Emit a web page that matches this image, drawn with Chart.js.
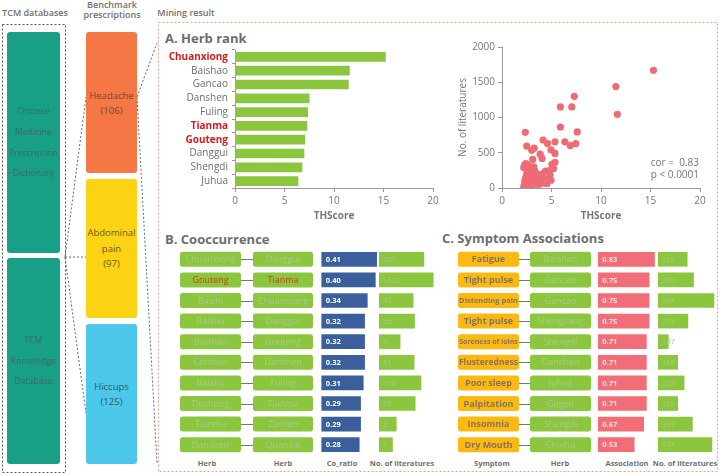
<!DOCTYPE html>
<html>
<head>
<meta charset="utf-8">
<script src="https://cdn.jsdelivr.net/npm/chart.js@4.4.1/dist/chart.umd.min.js"></script>
<style>
body{margin:0;width:720px;height:475px;position:relative;background:#fff;font-family:"Open Sans",Arial,sans-serif;overflow:hidden}
.hd{position:absolute;font-size:9px;font-weight:600;color:#707070;text-align:center;line-height:10px}
.box{position:absolute;border-radius:3px;display:flex;flex-direction:column;justify-content:center;align-items:center;text-align:center;font-size:10px;white-space:nowrap}
.sec{position:absolute;font-size:13px;font-weight:bold;color:#6d6d6d;line-height:14px}
.col{position:absolute;font-size:7.5px;font-weight:bold;color:#707070;text-align:center;width:80px}
canvas{position:absolute}
svg{position:absolute;left:0;top:0}
</style>
</head>
<body>
<svg width="720" height="475">
  <rect x="2.5" y="24.5" width="63" height="448" fill="none" stroke="#555" stroke-dasharray="2,2"/>
  <rect x="158.5" y="22.5" width="559" height="449" fill="none" stroke="#f2a283" stroke-dasharray="2,2"/>
  <g stroke="#666" stroke-dasharray="2,2" fill="none">
    <line x1="65" y1="257" x2="86" y2="97"/>
    <line x1="65" y1="257" x2="86" y2="257"/>
    <line x1="65" y1="257" x2="86" y2="413"/>
    <line x1="137" y1="97" x2="157" y2="43"/>
    <line x1="137" y1="97" x2="157" y2="463"/>
  </g>
</svg>

<div class="hd" style="left:0;top:8px;width:70px">TCM databases</div>
<div class="hd" style="left:78px;top:0;width:68px">Benchmark<br>prescriptions</div>
<div class="hd" style="left:150px;top:8px;width:72px">Mining result</div>

<div class="box" style="left:7px;top:32px;width:53px;height:221px;background:#17a086;color:#3b6f63;line-height:20.7px;font-size:8.7px">Chinese<br>Medicine<br>Prescription<br>Dictionary</div>
<div class="box" style="left:7px;top:258px;width:53px;height:206px;background:#17a086;color:#3b6f63;line-height:20.7px;font-size:8.7px">TCM<br>Knowledge<br>Database</div>
<div class="box" style="left:86px;top:32px;width:51px;height:141px;background:#f47745;color:#7b4534;line-height:15px;font-size:9.5px">Headache<br>(106)</div>
<div class="box" style="left:86px;top:179px;width:51px;height:139px;background:#fcd214;color:#6c5a14;line-height:15.5px;font-size:9.5px">Abdominal<br>pain<br>(97)</div>
<div class="box" style="left:86px;top:324px;width:51px;height:140px;background:#4cc8ea;color:#2e5c68;line-height:15px;font-size:9.5px">Hiccups<br>(125)</div>

<div class="sec" style="left:165px;top:31px">A. Herb rank</div>
<div class="sec" style="left:165px;top:232px">B. Cooccurrence</div>
<div class="sec" style="left:442px;top:231px">C. Symptom Associations</div>

<canvas id="rank" width="285" height="182" style="left:160px;top:40px"></canvas>
<canvas id="scat" width="265" height="184" style="left:450px;top:38px"></canvas>
<canvas id="coB" width="203" height="206" style="left:175px;top:249px"></canvas>
<canvas id="litB" width="61" height="206" style="left:379px;top:249px"></canvas>
<canvas id="asC" width="201" height="206" style="left:455px;top:249px"></canvas>
<canvas id="litC" width="60" height="206" style="left:658px;top:249px"></canvas>

<div class="col" style="left:167px;top:458px">Herb</div>
<div class="col" style="left:243px;top:458px">Herb</div>
<div class="col" style="left:302px;top:458px">Co_ratio</div>
<div class="col" style="left:362px;top:458px">No. of literatures</div>
<div class="col" style="left:452px;top:458px">Symptom</div>
<div class="col" style="left:520px;top:458px">Herb</div>
<div class="col" style="left:587px;top:458px">Association</div>
<div class="col" style="left:645px;top:458px">No. of literatures</div>

<script>
// A. herb rank
const rankHerbs = ['Chuanxiong', 'Baishao', 'Gancao', 'Danshen', 'Fuling', 'Tianma', 'Gouteng', 'Danggui', 'Shengdi', 'Juhua'];
const rankScores = [15.2, 11.55, 11.45, 7.5, 7.35, 7.27, 7.05, 6.97, 6.77, 6.37];
const rankKey = ['Chuanxiong', 'Tianma', 'Gouteng'];
const scoreTicks = [0, 5, 10, 15, 20];

// THScore vs number of literatures
const scatterScore = [15.3, 11.5, 11.65, 7.3, 5.9, 7.05, 5.9, 7.6, 2.35, 2.5, 4.15, 4.6, 5.35, 6.35, 6.9, 7.45,
  3.25, 3.0, 4.95, 3.85, 4.05, 5.35, 5.35, 3.1, 2.4, 2.55, 5.05, 4.85, 5.2, 4.4, 4.85, 4.95, 4.55, 3.2, 3.85, 4.5,
  2.2, 2.3, 2.3, 2.4, 2.4, 2.4, 2.5, 2.5, 2.5, 2.5, 2.6, 2.6, 2.6, 2.6, 2.7, 2.7, 2.7, 2.8, 2.8, 2.8, 2.8, 2.9, 2.9,
  3.0, 3.0, 3.0, 3.0, 3.1, 3.1, 3.2, 3.2, 3.3, 3.3, 3.4, 3.5, 3.5, 3.6, 3.7, 3.8, 3.9, 4.0, 4.1, 4.2, 2.2, 2.3, 2.5, 2.9, 3.2];
const scatterLit = [1670, 1440, 1045, 1300, 1150, 1150, 865, 795, 790, 595, 680, 630, 655, 655, 600, 630,
  565, 535, 540, 480, 420, 490, 365, 405, 345, 330, 335, 250, 275, 240, 180, 110, 65, 150, 180, 120,
  20, 60, 100, 10, 40, 150, 5, 80, 120, 200, 30, 60, 170, 250, 15, 90, 140, 40, 70, 110, 200, 25, 160,
  60, 100, 130, 220, 40, 180, 80, 120, 150, 250, 60, 100, 200, 130, 50, 160, 80, 120, 200, 70, 290, 330, 310, 300, 300];
const litTicks = [0, 500, 1000, 1500, 2000];

// B. co-occurrence
const coHerbA = ['Chuanxiong', 'Gouteng', 'Baizhi', 'Baizhu', 'Baishao', 'Chishao', 'Baizhu', 'Duzhong', 'Tianma', 'Danshen'];
const coHerbB = ['Danggui', 'Tianma', 'Chuanxiong', 'Danggui', 'Gouteng', 'Danshen', 'Fuling', 'Tianma', 'Zaoren', 'Quanxie'];
const coRed = [[false, true, false, false, false, false, false, false, false, false], [false, true, false, false, false, false, false, false, false, false]];
const coRatio = [0.41, 0.40, 0.34, 0.32, 0.32, 0.32, 0.31, 0.29, 0.29, 0.28];
const coLit = [301, 1612, 43, 55, 4, 51, 176, 62, 2, 1];

// C. symptom associations
const symptoms = ['Fatigue', 'Tight pulse', 'Distending pain', 'Tight pulse', 'Soreness of loins', 'Flusteredness', 'Poor sleep', 'Palpitation', 'Insomnia', 'Dry Mouth'];
const symHerbs = ['Baishao', 'Gancao', 'Gancao', 'Shengjiang', 'Shengdi', 'Danshen', 'Juhua', 'Gegen', 'Shengdi', 'Chaihu'];
const assoc = [0.83, 0.75, 0.75, 0.75, 0.71, 0.71, 0.71, 0.71, 0.67, 0.53];
const symLit = [266, 360, 964, 275, 107, 168, 229, 168, 341, 874];

Chart.defaults.font.family = '"Open Sans", Arial, sans-serif';
Chart.defaults.animation = false;
Chart.defaults.responsive = false;
Chart.defaults.plugins.legend.display = false;
Chart.defaults.plugins.tooltip.enabled = false;

const green = '#8cc63f';
const boxText = '#a9c78d';

// draws the value inside each bar
function barText(fmt, color, font) {
  return {
    id: 'barText',
    afterDatasetsDraw(chart) {
      const ctx = chart.ctx;
      const vals = chart.data.datasets[0].data;
      ctx.save();
      ctx.font = font;
      ctx.fillStyle = color;
      ctx.textBaseline = 'middle';
      chart.getDatasetMeta(0).data.forEach((el, i) => {
        ctx.fillText(fmt(vals[i]), el.base + 4, el.y + 0.5);
      });
      ctx.restore();
    }
  };
}

// label boxes on each row, placed with the chart's y scale
function rowBoxes(cols, links) {
  return {
    id: 'rowBoxes',
    beforeDatasetsDraw(chart) {
      const ctx = chart.ctx, y = chart.scales.y;
      ctx.save();
      for (let i = 0; i < cols[0].labels.length; i++) {
        const cy = y.getPixelForValue(i);
        ctx.strokeStyle = '#777';
        ctx.lineWidth = 1;
        links.forEach(l => {
          ctx.beginPath();
          ctx.moveTo(l[0], Math.round(cy) + 0.5);
          ctx.lineTo(l[1], Math.round(cy) + 0.5);
          ctx.stroke();
        });
        cols.forEach(c => {
          ctx.fillStyle = c.fill;
          ctx.beginPath();
          ctx.roundRect(c.x, cy - 7.5, c.w, 15, 2.5);
          ctx.fill();
          let size = c.size;
          ctx.font = c.weight + ' ' + size + 'px "Open Sans", Arial, sans-serif';
          while (ctx.measureText(c.labels[i]).width > c.w - 1 && size > 6) {
            size -= 0.25;
            ctx.font = c.weight + ' ' + size + 'px "Open Sans", Arial, sans-serif';
          }
          ctx.fillStyle = c.red && c.red[i] ? '#d8371f' : c.color;
          ctx.textAlign = 'center';
          ctx.textBaseline = 'middle';
          ctx.fillText(c.labels[i], c.x + c.w / 2, cy + 0.5);
        });
      }
      ctx.restore();
    }
  };
}

const hidden = {display: false};

new Chart(document.getElementById('rank'), {
  type: 'bar',
  data: {labels: rankHerbs, datasets: [{data: rankScores, backgroundColor: green, barThickness: 9}]},
  options: {
    indexAxis: 'y',
    layout: {padding: {top: 10, right: 12, left: 0, bottom: 0}},
    scales: {
      x: {
        min: 0, max: 20,
        afterBuildTicks: s => { s.ticks = scoreTicks.map(v => ({value: v})); },
        ticks: {color: '#777', font: {size: 10}, padding: 3},
        grid: {drawOnChartArea: false, color: '#999', tickLength: 4},
        border: {color: '#999'},
        title: {display: true, text: 'THScore', color: '#777', font: {size: 10, weight: 'bold'}, padding: {top: 4, bottom: 0}},
        afterFit: s => { s.height = 34; }
      },
      y: {
        ticks: {
          autoSkip: false,
          color: c => rankKey.includes(rankHerbs[c.index]) ? '#d7191c' : '#6f6f6f',
          font: c => ({size: 10, weight: rankKey.includes(rankHerbs[c.index]) ? 'bold' : 'normal'}),
          padding: 4
        },
        grid: {drawOnChartArea: false, color: '#999', tickLength: 3},
        border: {color: '#999'},
        afterFit: s => { s.width = 75; }
      }
    }
  }
});

new Chart(document.getElementById('scat'), {
  type: 'scatter',
  data: {datasets: [{
    data: scatterScore.map((v, i) => ({x: v, y: scatterLit[i]})),
    backgroundColor: '#ee6b74', borderWidth: 0, pointRadius: 3.6
  }]},
  options: {
    layout: {padding: {top: 9, right: 15, left: 0, bottom: 0}},
    scales: {
      x: {
        min: 0, max: 20,
        afterBuildTicks: s => { s.ticks = scoreTicks.map(v => ({value: v})); },
        ticks: {color: '#777', font: {size: 10}, padding: 3},
        grid: {drawOnChartArea: false, color: '#999', tickLength: 4},
        border: {color: '#999'},
        title: {display: true, text: 'THScore', color: '#777', font: {size: 10, weight: 'bold'}, padding: {top: 4, bottom: 0}},
        afterFit: s => { s.height = 34; }
      },
      y: {
        min: 0, max: 2000,
        afterBuildTicks: s => { s.ticks = litTicks.map(v => ({value: v})); },
        ticks: {color: '#777', font: {size: 10}, padding: 3, callback: v => String(v)},
        grid: {drawOnChartArea: false, color: '#999', tickLength: 4},
        border: {color: '#999'},
        title: {display: true, text: 'No. of literatures', color: '#777', font: {size: 10}, padding: {top: 7, bottom: 0}},
        afterFit: s => { s.width = 52; }
      }
    }
  },
  plugins: [{
    id: 'corText',
    afterDatasetsDraw(chart) {
      const ctx = chart.ctx, a = chart.chartArea;
      ctx.save();
      ctx.font = '10px "Open Sans", Arial, sans-serif';
      ctx.fillStyle = '#777';
      ctx.textAlign = 'right';
      ctx.textBaseline = 'middle';
      ctx.fillText('cor =  0.83', a.right - 1, 163 - 38);
      ctx.fillText('p < 0.0001', a.right - 1, 175 - 38);
      ctx.restore();
    }
  }]
});

new Chart(document.getElementById('coB'), {
  type: 'bar',
  data: {labels: coHerbA, datasets: [{data: coRatio, backgroundColor: '#3b5f9c', barThickness: 14}]},
  options: {
    indexAxis: 'y',
    layout: {padding: 0},
    scales: {x: {display: false, min: -1.095, max: 0.42}, y: hidden}
  },
  plugins: [
    rowBoxes([
      {x: 5, w: 61, fill: green, color: boxText, labels: coHerbA, red: coRed[0], size: 9, weight: 'normal'},
      {x: 78, w: 60, fill: green, color: boxText, labels: coHerbB, red: coRed[1], size: 9, weight: 'normal'}
    ], [[66, 78]]),
    barText(v => v.toFixed(2), '#ffffff', 'bold 7.5px "Open Sans", Arial, sans-serif')
  ]
});

new Chart(document.getElementById('litB'), {
  type: 'bar',
  data: {labels: coHerbA, datasets: [{data: coLit, backgroundColor: green, barThickness: 14}]},
  options: {
    indexAxis: 'y',
    layout: {padding: 0},
    scales: {x: {display: false, type: 'logarithmic', min: 0.0869, max: 5560}, y: hidden}
  },
  plugins: [barText(v => String(v), boxText, '7.5px "Open Sans", Arial, sans-serif')]
});

new Chart(document.getElementById('asC'), {
  type: 'bar',
  data: {labels: symptoms, datasets: [{data: assoc, backgroundColor: '#f16d77', barThickness: 14}]},
  options: {
    indexAxis: 'y',
    layout: {padding: 0},
    scales: {x: {display: false, min: -2.117, max: 0.852}, y: hidden}
  },
  plugins: [
    rowBoxes([
      {x: 3, w: 61, fill: '#fdb913', color: '#857558', labels: symptoms, size: 9, weight: 'bold'},
      {x: 75, w: 61, fill: green, color: boxText, labels: symHerbs, size: 9, weight: 'normal'}
    ], [[64, 75]]),
    barText(v => v.toFixed(2), '#fde3e5', 'bold 7.5px "Open Sans", Arial, sans-serif')
  ]
});

new Chart(document.getElementById('litC'), {
  type: 'bar',
  data: {labels: symptoms, datasets: [{data: symLit, backgroundColor: green, barThickness: 14}]},
  options: {
    indexAxis: 'y',
    layout: {padding: 0},
    scales: {x: {display: false, type: 'logarithmic', min: 65.2, max: 1170}, y: hidden}
  },
  plugins: [barText(v => String(v), boxText, '7.5px "Open Sans", Arial, sans-serif')]
});
</script>
</body>
</html>
